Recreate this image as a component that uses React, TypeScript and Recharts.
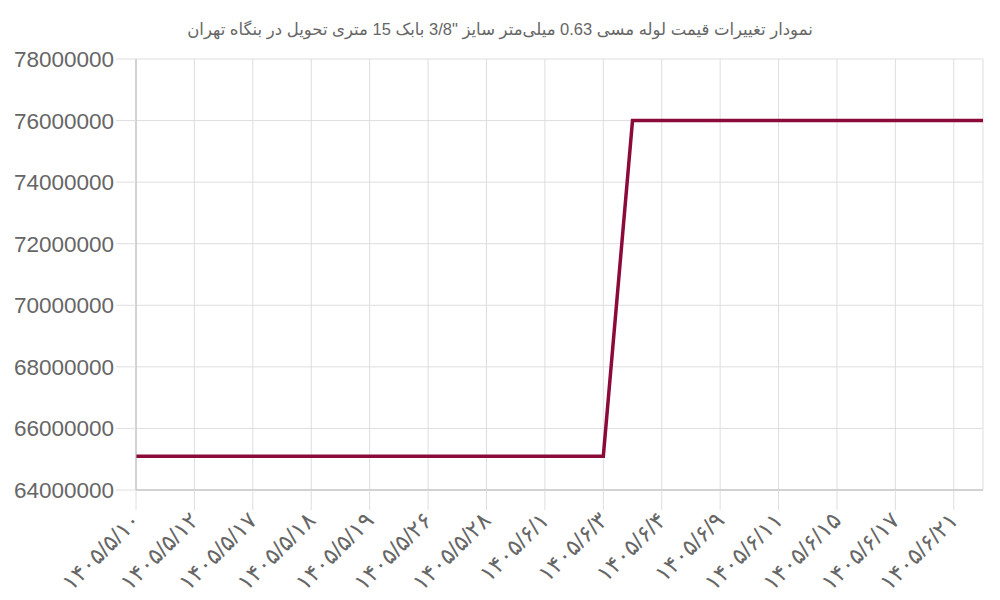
import { LineChart, Line, XAxis, YAxis, CartesianGrid } from 'recharts'

const dates = [
  '۱۴۰۵/۵/۱۰', '۱۴۰۵/۵/۱۱', '۱۴۰۵/۵/۱۲', '۱۴۰۵/۵/۱۴', '۱۴۰۵/۵/۱۷', '۱۴۰۵/۵/۱۷',
  '۱۴۰۵/۵/۱۸', '۱۴۰۵/۵/۱۸', '۱۴۰۵/۵/۱۹', '۱۴۰۵/۵/۲۵', '۱۴۰۵/۵/۲۶', '۱۴۰۵/۵/۲۷',
  '۱۴۰۵/۵/۲۸', '۱۴۰۵/۵/۳۱', '۱۴۰۵/۶/۱', '۱۴۰۵/۶/۲', '۱۴۰۵/۶/۳', '۱۴۰۵/۶/۳',
  '۱۴۰۵/۶/۴', '۱۴۰۵/۶/۸', '۱۴۰۵/۶/۹', '۱۴۰۵/۶/۱۰', '۱۴۰۵/۶/۱۱', '۱۴۰۵/۶/۱۴',
  '۱۴۰۵/۶/۱۵', '۱۴۰۵/۶/۱۶', '۱۴۰۵/۶/۱۷', '۱۴۰۵/۶/۱۸', '۱۴۰۵/۶/۲۱', '۱۴۰۵/۶/۲۲',
]

const prices = [
  65100000, 65100000, 65100000, 65100000, 65100000, 65100000,
  65100000, 65100000, 65100000, 65100000, 65100000, 65100000,
  65100000, 65100000, 65100000, 65100000, 65100000, 76000000,
  76000000, 76000000, 76000000, 76000000, 76000000, 76000000,
  76000000, 76000000, 76000000, 76000000, 76000000, 76000000,
]

// only every other date gets a label (and a grid line)
const labeledIdx = [0, 2, 4, 6, 8, 10, 12, 14, 16, 18, 20, 22, 24, 26, 28]

const yTicks = [64000000, 66000000, 68000000, 70000000, 72000000, 74000000, 76000000, 78000000]

const title = 'نمودار تغییرات قیمت لوله مسی 0.63 میلی‌متر سایز "3/8 بابک 15 متری تحویل در بنگاه تهران'

const data = dates.map((d, i) => ({ i, date: d, price: prices[i] }))

const font = '"Liberation Sans", "DejaVu Sans", sans-serif'

function DateTick({ x, y, payload }: any) {
  return (
    <text
      x={x}
      y={y}
      transform={`rotate(-45, ${x}, ${y})`}
      textAnchor="end"
      dominantBaseline="central"
      fontSize={23}
      fill="#666"
      fontFamily={font}
    >
      {dates[payload.value]}
    </text>
  )
}

export default function App() {
  return (
    <div style={{ position: 'absolute', left: 0, top: 0, width: 1000, height: 600, background: '#fff', fontFamily: font }}>
      <div
        dir="rtl"
        style={{
          position: 'absolute', left: 0, top: 20, width: 1000, textAlign: 'center',
          fontSize: 16.5, color: '#666',
        }}
      >
        {title}
      </div>
      <LineChart width={1000} height={600} data={data} margin={{ top: 59, right: 17, left: 0, bottom: 0 }}>
        <CartesianGrid stroke="#dedede" strokeWidth={1} />
        <XAxis
          dataKey="i"
          type="number"
          domain={[0, 29]}
          ticks={labeledIdx}
          interval={0}
          height={110}
          tick={<DateTick />}
          tickSize={20}
          tickMargin={6}
          axisLine={{ stroke: '#b5b5b5' }}
          tickLine={{ stroke: '#dedede' }}
        />
        <YAxis
          width={136}
          domain={[64000000, 78000000]}
          ticks={yTicks}
          interval={0}
          tick={{ fontSize: 22.5, fill: '#666', fontFamily: font }}
          tickSize={20}
          tickMargin={2}
          axisLine={{ stroke: '#b5b5b5' }}
          tickLine={{ stroke: '#dedede' }}
        />
        <Line
          type="linear"
          dataKey="price"
          stroke="#8c0a3a"
          strokeWidth={3.5}
          dot={false}
          isAnimationActive={false}
        />
      </LineChart>
    </div>
  )
}
